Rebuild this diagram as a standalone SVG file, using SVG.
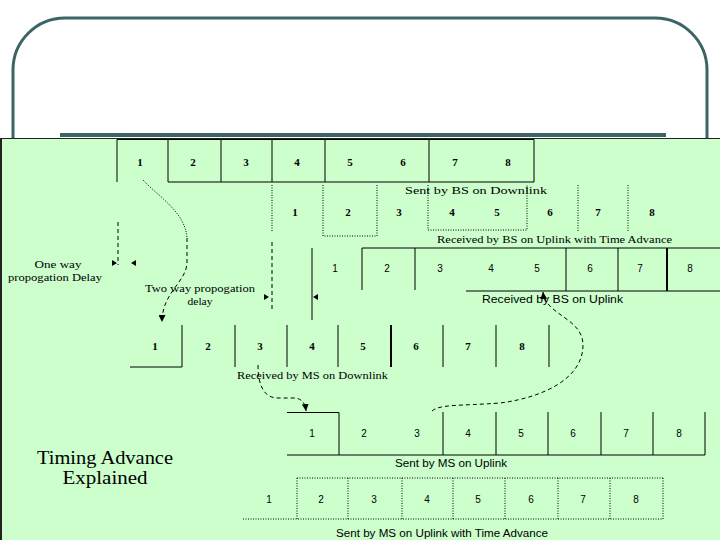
<svg xmlns="http://www.w3.org/2000/svg" width="720" height="540" viewBox="0 0 720 540">
<defs>
<style>
.ln{stroke:#000;stroke-width:1;fill:none}
.th{stroke:#000;stroke-width:2;fill:none}
.dot{stroke:#000;stroke-width:1;fill:none;stroke-dasharray:1,1.5}
.dash{stroke:#000;stroke-width:1;fill:none;stroke-dasharray:4,3}
.sr{font-family:"Liberation Serif","Times New Roman",serif;font-size:11px;fill:#000}
.srb{font-family:"Liberation Serif","Times New Roman",serif;font-size:11px;font-weight:bold;fill:#000;text-anchor:middle}
.ss{font-family:"Liberation Sans",Arial,sans-serif;font-size:10px;fill:#000}
.ssn{font-family:"Liberation Sans",Arial,sans-serif;font-size:10px;fill:#000;text-anchor:middle}
.mid{text-anchor:middle}
</style>
<marker id="ah" viewBox="0 0 8 8" refX="8" refY="4" markerWidth="7" markerHeight="7" markerUnits="userSpaceOnUse" orient="auto">
<path d="M0,0 L8,4 L0,8 z" fill="#000"/>
</marker>
</defs>
<rect x="0" y="0" width="720" height="540" fill="#fff"/>
<g id="title-frame">
<path d="M13,138 V70 A52,52 0 0 1 65,18 H655 A52,52 0 0 1 707,70 V138" fill="none" stroke="#3d6464" stroke-width="3"/>
<rect x="60" y="133" width="606" height="4" fill="#3d6464"/>
</g>
<g id="panel">
<rect x="0" y="138" width="720" height="402" fill="#ccffcc"/>
<line x1="0" y1="138.5" x2="720" y2="138.5" stroke="#222" stroke-width="1"/>
<line x1="1" y1="138" x2="1" y2="540" stroke="#222" stroke-width="2"/>
</g>
<g id="row-sent-bs-downlink">
<path class="ln" d="M117,182 V139.5 H534 V182 H168 V139.5"/>
<path class="ln" d="M221,139 V182 M272,139 V182 M325,139 V182 M429,139 V182"/>
<text class="srb" x="140" y="166">1</text><text class="srb" x="193" y="166">2</text><text class="srb" x="246" y="166">3</text><text class="srb" x="297" y="166">4</text><text class="srb" x="350" y="166">5</text><text class="srb" x="403" y="166">6</text><text class="srb" x="455" y="166">7</text><text class="srb" x="508" y="166">8</text>
<text class="sr" x="405" y="194" textLength="142" lengthAdjust="spacingAndGlyphs">Sent by BS on Downlink</text>
</g>
<g id="row-received-bs-uplink-ta">
<path class="dot" d="M272,185 V232 M323,185 V236 H377 V185 M428,185 V230 H527 V185 M578,185 V232 M628,185 V232"/>
<text class="srb" x="295" y="216">1</text><text class="srb" x="348" y="216">2</text><text class="srb" x="399" y="216">3</text><text class="srb" x="452" y="216">4</text><text class="srb" x="497" y="216">5</text><text class="srb" x="550" y="216">6</text><text class="srb" x="598" y="216">7</text><text class="srb" x="652" y="216">8</text>
<text class="sr" x="437" y="243" textLength="235" lengthAdjust="spacingAndGlyphs">Received by BS on Uplink with Time Advance</text>
</g>
<g id="row-received-bs-uplink">
<path class="ln" d="M312,248 V320 M362,290 V248 H720 M415,248 V290 M566,248 V291 M618,248 V291 M466,291 H720"/>
<path class="th" d="M667,248 V291"/>
<text class="ssn" x="335" y="272">1</text><text class="ssn" x="387" y="272">2</text><text class="ssn" x="440" y="272">3</text><text class="ssn" x="491" y="272">4</text><text class="ssn" x="537" y="272">5</text><text class="ssn" x="590" y="272">6</text><text class="ssn" x="640" y="272">7</text><text class="ssn" x="690" y="272">8</text>
<text class="ss" x="482" y="303" textLength="141" lengthAdjust="spacingAndGlyphs">Received by BS on Uplink</text>
</g>
<g id="row-received-ms-downlink">
<path class="ln" d="M130,367 H182 V325 M235,325 V367 M287,325 V367 M338,325 V367 M443,325 V367 M496,325 V367 M549,325 V367"/>
<path class="th" d="M391,325 V367"/>
<text class="srb" x="155" y="350">1</text><text class="srb" x="208" y="350">2</text><text class="srb" x="260" y="350">3</text><text class="srb" x="312" y="350">4</text><text class="srb" x="363" y="350">5</text><text class="srb" x="416" y="350">6</text><text class="srb" x="468" y="350">7</text><text class="srb" x="522" y="350">8</text>
<text class="sr" x="237" y="379" textLength="151" lengthAdjust="spacingAndGlyphs">Received by MS on Downlink</text>
</g>
<g id="row-sent-ms-uplink">
<path class="ln" d="M287,412.5 H339 V455 M287,455 H705 M443,412 V455 M496,412 V455 M548,412 V455 M601,412 V455 M653,412 V455 M705,412 V455"/>
<text class="ssn" x="312" y="437">1</text><text class="ssn" x="364" y="437">2</text><text class="ssn" x="417" y="437">3</text><text class="ssn" x="468" y="437">4</text><text class="ssn" x="521" y="437">5</text><text class="ssn" x="573" y="437">6</text><text class="ssn" x="626" y="437">7</text><text class="ssn" x="679" y="437">8</text>
<text class="ss" x="395" y="467" textLength="112" lengthAdjust="spacingAndGlyphs">Sent by MS on Uplink</text>
</g>
<g id="row-sent-ms-uplink-ta">
<path class="dot" d="M297,478 H663 M243,519 H663 M297,478 V519 M348,478 V519 M402,478 V519 M453,478 V519 M505,478 V519 M558,478 V519 M610,478 V519 M663,478 V519"/>
<text class="ssn" x="269" y="503">1</text><text class="ssn" x="321" y="503">2</text><text class="ssn" x="374" y="503">3</text><text class="ssn" x="427" y="503">4</text><text class="ssn" x="478" y="503">5</text><text class="ssn" x="531" y="503">6</text><text class="ssn" x="583" y="503">7</text><text class="ssn" x="636" y="503">8</text>
<text class="ss" x="336" y="537" textLength="212" lengthAdjust="spacingAndGlyphs">Sent by MS on Uplink with Time Advance</text>
</g>
<g id="label-one-way">
<text class="sr mid" x="58" y="268" textLength="47" lengthAdjust="spacingAndGlyphs">One way</text>
<text class="sr mid" x="55" y="281" textLength="94" lengthAdjust="spacingAndGlyphs">propogation Delay</text>
</g>
<g id="label-two-way">
<text class="sr mid" x="200" y="292" textLength="110" lengthAdjust="spacingAndGlyphs">Two way propogation</text>
<text class="sr mid" x="200" y="305" textLength="25" lengthAdjust="spacingAndGlyphs">delay</text>
</g>
<g id="title-text">
<text class="mid" x="105" y="464" font-family="'Liberation Serif','Times New Roman',serif" font-size="18" textLength="136" lengthAdjust="spacingAndGlyphs">Timing Advance</text>
<text class="mid" x="105" y="484" font-family="'Liberation Serif','Times New Roman',serif" font-size="18" textLength="85" lengthAdjust="spacingAndGlyphs">Explained</text>
</g>
<g id="connectors">
<path class="dash" d="M118,222 V265"/>
<path class="dash" d="M272,242 V312"/>
<polygon points="112,260 117,263 112,266" fill="#000"/>
<polygon points="136,260 131,263 136,266" fill="#000"/>
<polygon points="264,294 269,297 264,300" fill="#000"/>
<polygon points="318,294 313,297 318,300" fill="#000"/>
<path class="dot" d="M143,180 C160,198 185,212 187,238"/>
<path class="dash" d="M187,238 V262 C187,282 162,292 162,322" marker-end="url(#ah)"/>
<path class="dash" d="M258,365 C258,382 262,398 278,398 H293 C301,398 305,402 306,411" marker-end="url(#ah)"/>
<path class="dash" d="M432,411 C440,404 460,406 500,403 C540,398 583,380 583,345 C583,318 545,315 543,292" marker-end="url(#ah)"/>
</g>
</svg>
